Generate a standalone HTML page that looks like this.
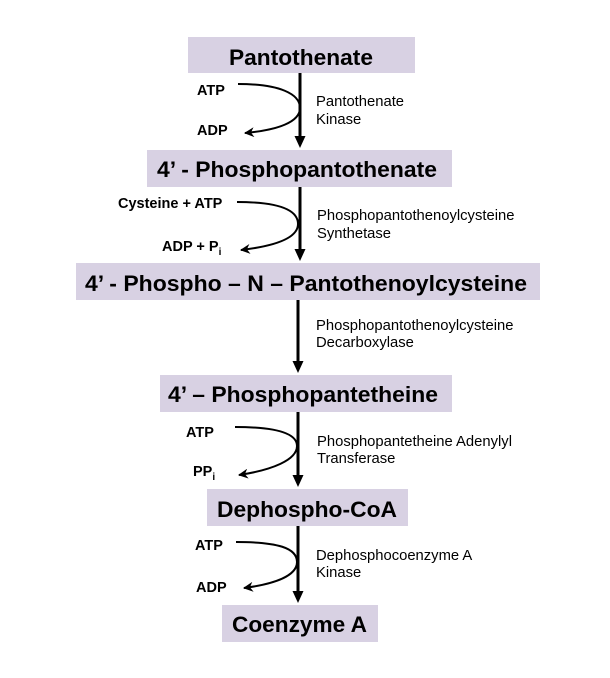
<!DOCTYPE html>
<html><head><meta charset="utf-8"><style>
html,body{margin:0;padding:0;background:#fff;}
svg{display:block;}
.t{font-family:"Liberation Sans",Arial,sans-serif;font-weight:bold;font-size:22.5px;fill:#000;}
.b{font-family:"Liberation Sans",Arial,sans-serif;font-weight:bold;font-size:14.5px;fill:#000;}
.r{font-family:"Liberation Sans",Arial,sans-serif;font-size:14.8px;fill:#000;}
</style></head><body>
<svg width="610" height="678" viewBox="0 0 610 678" xmlns="http://www.w3.org/2000/svg">
<defs>
<marker id="big" markerWidth="12" markerHeight="12" refX="6" refY="11" orient="0" markerUnits="userSpaceOnUse" viewBox="0 0 12 12">
</marker>
<marker id="sm" markerWidth="10" markerHeight="10" refX="9" refY="5" orient="auto" markerUnits="userSpaceOnUse" viewBox="0 0 10 10">
<path d="M0,0 L10,5 L0,10 L3,5 Z" fill="#000"/>
</marker>
</defs>
<g fill="#d8d1e3">
<rect x="188" y="37" width="227" height="36"/>
<rect x="147" y="150" width="305" height="37"/>
<rect x="76" y="263" width="464" height="37"/>
<rect x="160" y="375" width="292" height="37"/>
<rect x="207" y="489" width="201" height="37"/>
<rect x="222" y="605" width="156" height="37"/>
</g>
<text class="t" x="229" y="65" textLength="144" lengthAdjust="spacingAndGlyphs">Pantothenate</text>
<text class="t" x="157" y="177" textLength="280" lengthAdjust="spacingAndGlyphs">4’ - Phosphopantothenate</text>
<text class="t" x="85" y="291" textLength="442" lengthAdjust="spacingAndGlyphs">4’ - Phospho – N – Pantothenoylcysteine</text>
<text class="t" x="168" y="402" textLength="270" lengthAdjust="spacingAndGlyphs">4’ – Phosphopantetheine</text>
<text class="t" x="217" y="517" textLength="180" lengthAdjust="spacingAndGlyphs">Dephospho-CoA</text>
<text class="t" x="232" y="632" textLength="135" lengthAdjust="spacingAndGlyphs">Coenzyme A</text>

<!-- main arrows -->
<g stroke="#000" stroke-width="3">
<line x1="300" y1="73" x2="300" y2="138"/>
<line x1="300" y1="187" x2="300" y2="251"/>
<line x1="298" y1="300" x2="298" y2="363"/>
<line x1="298" y1="412" x2="298" y2="477"/>
<line x1="298" y1="526" x2="298" y2="593"/>
</g>
<g fill="#000">
<path d="M294.5,136 L305.5,136 L300,148 Z"/>
<path d="M294.5,249 L305.5,249 L300,261 Z"/>
<path d="M292.5,361 L303.5,361 L298,373 Z"/>
<path d="M292.5,475 L303.5,475 L298,487 Z"/>
<path d="M292.5,591 L303.5,591 L298,603 Z"/>
</g>

<!-- side curves -->
<g fill="none" stroke="#000" stroke-width="2">
<path d="M238,84 C280,84 300,94 300,108 C300,122 278,130 245,133" marker-end="url(#sm)"/>
<path d="M237,202 C280,202 298,210 298,224 C298,238 275,246 241,250" marker-end="url(#sm)"/>
<path d="M235,427 C278,427 297,434 297,446 C297,460 272,470 239,475" marker-end="url(#sm)"/>
<path d="M236,542 C278,542 297,548 297,562 C297,576 274,584 244,588" marker-end="url(#sm)"/>
</g>

<!-- left labels -->
<text class="b" x="197" y="95">ATP</text>
<text class="b" x="197" y="135">ADP</text>
<text class="b" x="118" y="208">Cysteine + ATP</text>
<text class="b" x="162" y="251">ADP + P<tspan font-size="10" dy="4">i</tspan></text>
<text class="b" x="186" y="437">ATP</text>
<text class="b" x="193" y="476">PP<tspan font-size="10" dy="4">i</tspan></text>
<text class="b" x="195" y="550">ATP</text>
<text class="b" x="196" y="592">ADP</text>

<!-- enzyme labels -->
<text class="r" x="316" y="106">Pantothenate</text>
<text class="r" x="316" y="124">Kinase</text>
<text class="r" x="317" y="220">Phosphopantothenoylcysteine</text>
<text class="r" x="317" y="238">Synthetase</text>
<text class="r" x="316" y="330">Phosphopantothenoylcysteine</text>
<text class="r" x="316" y="347">Decarboxylase</text>
<text class="r" x="317" y="446">Phosphopantetheine Adenylyl</text>
<text class="r" x="317" y="463">Transferase</text>
<text class="r" x="316" y="560">Dephosphocoenzyme A</text>
<text class="r" x="316" y="577">Kinase</text>
</svg>
</body></html>
